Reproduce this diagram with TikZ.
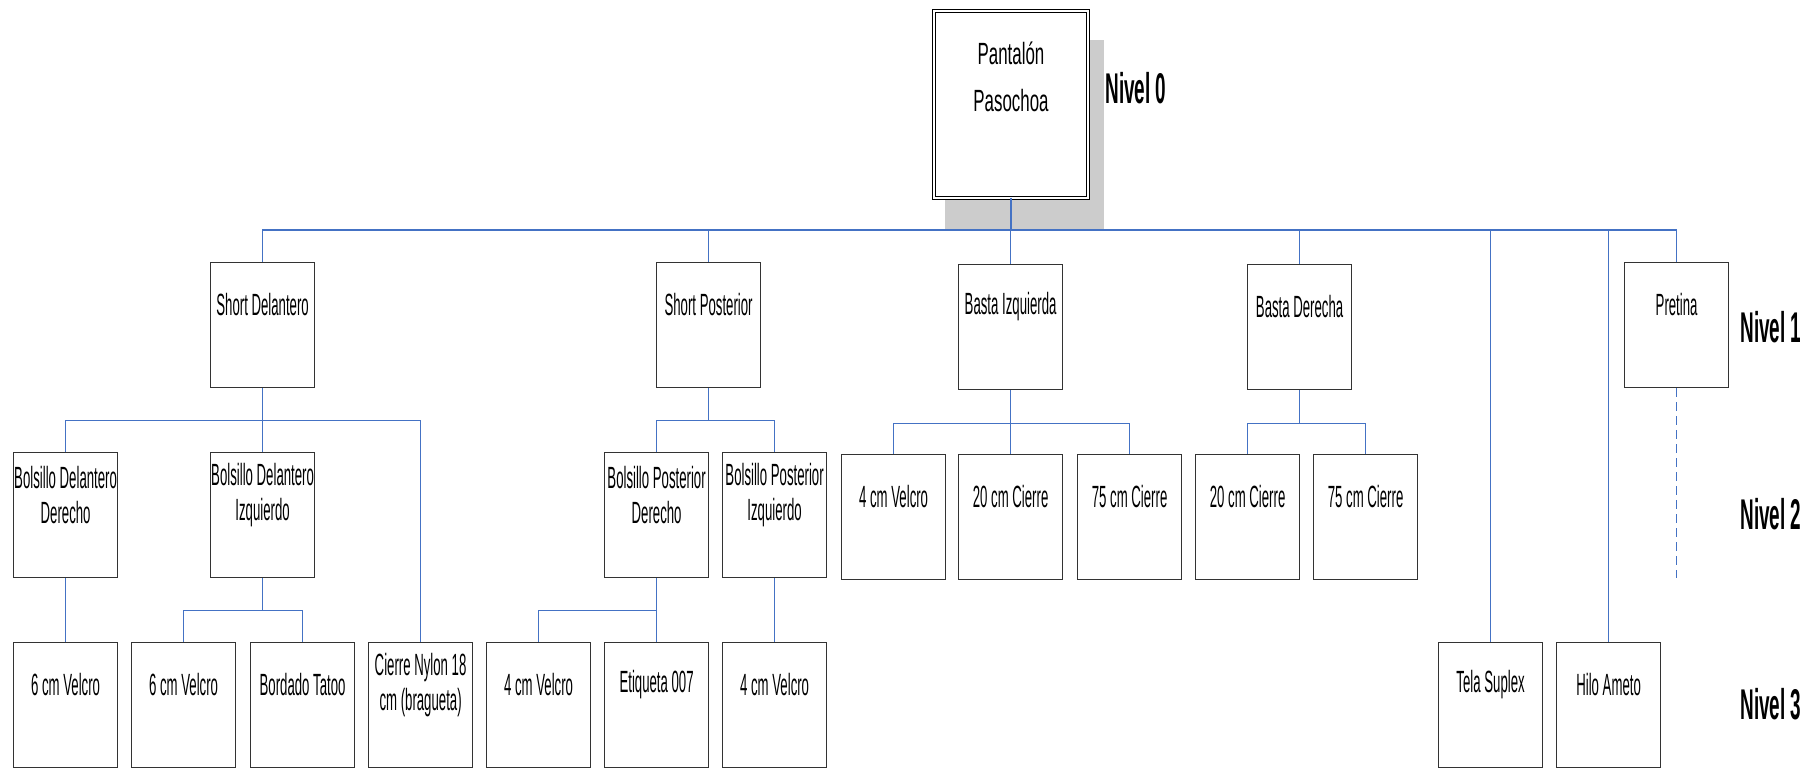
\documentclass[tikz,border=0pt]{standalone}
\usepackage{fontspec}
\newfontfamily\nf[FakeStretch=0.43]{Liberation Sans}
\newfontfamily\nfr[FakeStretch=0.55]{Liberation Sans}
\newfontfamily\nfb[FakeStretch=0.44]{Liberation Sans}
\definecolor{connc}{HTML}{4472C4}
\definecolor{bord}{HTML}{333333}
\definecolor{shad}{HTML}{CCCCCC}
\tikzset{
  box/.style={draw=bord, line width=1.2pt, fill=white, minimum width=104pt, minimum height=125pt, inner sep=0pt, anchor=north west},
  txt/.style={font=\nf\fontsize{30.7}{35}\selectfont, align=center, inner sep=0pt, text=black},
  lvl/.style={font=\nfb\bfseries\fontsize{43}{43}\selectfont, inner sep=0pt, text=black},
  conn/.style={draw=connc, line width=1.2pt},
  dconn/.style={draw=connc, line width=1.2pt, dash pattern=on 9pt off 5pt},
}
\newcommand\mybox[4]{\node[box] (#1) at (#2,#3) {}; \node[txt] (#1t) at ([yshift=-43pt]#1.north) {#4};}
\begin{document}
\begin{tikzpicture}[x=1pt,y=-1pt]
\useasboundingbox (0,0) rectangle (1816,768);
% root
\fill[shad] (945,40) rectangle (1104,229);
\node[draw=black, line width=0.8pt, double=white, double distance=2pt, fill=white, minimum width=154pt, minimum height=187pt, inner sep=0pt] (root) at (1011,104.5) {};
\node[font=\nfr\fontsize{30.7}{47}\selectfont, align=center, inner sep=0pt] (roott) at (1011,77) {Pantalón\\Pasochoa};
% level 1
\mybox{sd}{210}{262}{Short Delantero}
\mybox{sp}{656}{262}{Short Posterior}
\mybox{bi}{958}{264}{Basta Izquierda}
\mybox{bd}{1247}{264}{Basta Derecha}
\mybox{pre}{1624}{262}{Pretina}
% level 2
\mybox{bdd}{13}{452}{Bolsillo Delantero\\Derecho}
\mybox{bdi}{210}{452}{Bolsillo Delantero\\Izquierdo}
\mybox{bpd}{604}{452}{Bolsillo Posterior\\Derecho}
\mybox{bpi}{722}{452}{Bolsillo Posterior\\Izquierdo}
\mybox{bv}{841}{454}{4 cm Velcro}
\mybox{bca}{958}{454}{20 cm Cierre}
\mybox{bcb}{1077}{454}{75 cm Cierre}
\mybox{dca}{1195}{454}{20 cm Cierre}
\mybox{dcb}{1313}{454}{75 cm Cierre}
% level 3
\mybox{va}{13}{642}{6 cm Velcro}
\mybox{vb}{131}{642}{6 cm Velcro}
\mybox{tat}{250}{642}{Bordado Tatoo}
\mybox{cn}{368}{642}{Cierre Nylon 18\\cm (bragueta)}
\mybox{vc}{486}{642}{4 cm Velcro}
\mybox{et}{604}{642}{Etiqueta 007}
\mybox{vd}{722}{642}{4 cm Velcro}
\mybox{tela}{1438}{642}{Tela Suplex}
\mybox{hilo}{1556}{642}{Hilo Ameto}
% connectors
\coordinate (j0) at (1011,230);
\draw[conn] (root.south) -- (j0);
\foreach \c in {sd,sp,bi,bd,pre,tela,hilo} \draw[conn] (j0) -| (\c.north);
\path (sd.south) ++(0,32) coordinate (j1);
\draw[conn] (sd.south) -- (j1);
\foreach \c in {bdd,bdi,cn} \draw[conn] (j1) -| (\c.north);
\path (sp.south) ++(0,32) coordinate (j2);
\draw[conn] (sp.south) -- (j2);
\foreach \c in {bpd,bpi} \draw[conn] (j2) -| (\c.north);
\path (bi.south) ++(0,33) coordinate (j3);
\draw[conn] (bi.south) -- (j3);
\foreach \c in {bv,bca,bcb} \draw[conn] (j3) -| (\c.north);
\path (bd.south) ++(0,33) coordinate (j4);
\draw[conn] (bd.south) -- (j4);
\foreach \c in {dca,dcb} \draw[conn] (j4) -| (\c.north);
\draw[conn] (bdd.south) -- (va.north);
\path (bdi.south) ++(0,32) coordinate (j5);
\draw[conn] (bdi.south) -- (j5);
\foreach \c in {vb,tat} \draw[conn] (j5) -| (\c.north);
\path (bpd.south) ++(0,32) coordinate (j6);
\draw[conn] (bpd.south) -- (j6);
\foreach \c in {vc,et} \draw[conn] (j6) -| (\c.north);
\draw[conn] (bpi.south) -- (vd.north);
\coordinate (pend) at (1679,578);
\draw[dconn] (pre.south) -- (pre.south |- pend);
% level labels
\node[lvl] (n0) at (1136,88) {Nivel 0};
\node[lvl] (n1) at (1771,327) {Nivel 1};
\node[lvl] (n2) at (1771,514) {Nivel 2};
\node[lvl] (n3) at (1771,704) {Nivel 3};
\end{tikzpicture}
\end{document}
